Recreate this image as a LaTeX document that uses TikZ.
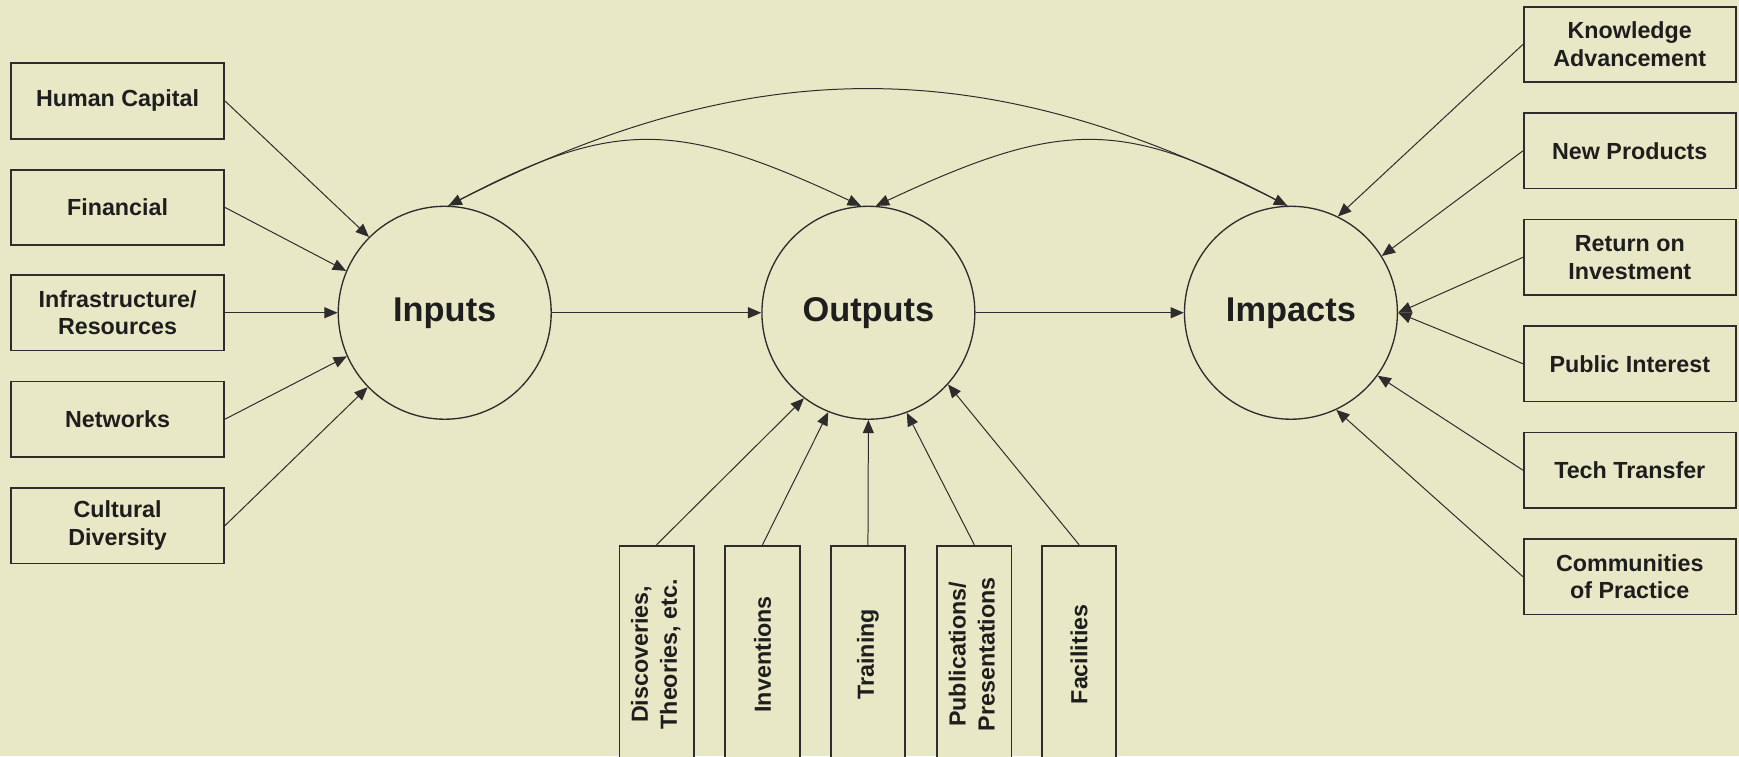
\documentclass[tikz,border=0pt]{standalone}
\usepackage{fontspec}
\setmainfont{Liberation Sans}
\usepackage{graphicx}
\usetikzlibrary{arrows.meta}
\definecolor{bgc}{RGB}{233,232,198}
\definecolor{ink}{RGB}{30,30,30}
\definecolor{edge}{RGB}{45,45,45}
\begin{document}
\begin{tikzpicture}[x=1pt,y=-1pt,
  >={Triangle[length=12pt,width=10pt]},
  box/.style={draw=edge, line width=1.6pt, fill=bgc, minimum width=192pt, minimum height=68pt,
    inner sep=2pt, align=center, text=ink, font=\fontsize{21}{25}\selectfont\bfseries},
  vbox/.style={draw=edge, line width=1.6pt, fill=bgc, minimum width=67pt, minimum height=196pt,
    inner sep=0pt, text=ink, font=\fontsize{21}{26}\selectfont\bfseries},
  hub/.style={circle, draw=edge, line width=1.2pt, minimum size=192pt, inner sep=0pt,
    text=ink, font=\fontsize{31}{36}\selectfont\bfseries},
  arr/.style={draw=edge, line width=0.9pt, ->},
  arrb/.style={draw=edge, line width=0.9pt, <->}
]
\fill[bgc] (0,0) rectangle (1568,682);
\useasboundingbox (0,0) rectangle (1568,682);

% left boxes
\node[box] (hc)    at (106,91)  {Human Capital};
\node[box] (fin)   at (106,187) {Financial};
\node[box] (infra) at (106,282) {Infrastructure/\\Resources};
\node[box] (net)   at (106,378) {Networks};
\node[box] (cult)  at (106,474) {Cultural\\Diversity};

% hubs
\node[hub] (in)  at (401,282)  {Inputs};
\node[hub] (out) at (783,282)  {Outputs};
\node[hub] (imp) at (1164,282) {Impacts};

% right boxes
\node[box, minimum width=191pt] (ka)   at (1469.5,40)  {Knowledge\\Advancement};
\node[box, minimum width=191pt] (np)   at (1469.5,136) {New Products};
\node[box, minimum width=191pt] (roi)  at (1469.5,232) {Return on\\Investment};
\node[box, minimum width=191pt] (pubi) at (1469.5,328) {Public Interest};
\node[box, minimum width=191pt] (tt)   at (1469.5,424) {Tech Transfer};
\node[box, minimum width=191pt] (cop)  at (1469.5,520) {Communities\\of Practice};

% bottom boxes
\node[vbox] (disc)  at (592,590)   {\rotatebox{90}{\begin{tabular}{@{}c@{}}Discoveries,\\Theories, etc.\end{tabular}}};
\node[vbox] (inv)   at (687.5,590) {\rotatebox{90}{Inventions}};
\node[vbox] (train) at (782.6,590) {\rotatebox{90}{Training}};
\node[vbox] (publ)  at (878.5,590) {\rotatebox{90}{\begin{tabular}{@{}c@{}}Publications/\\Presentations\end{tabular}}};
\node[vbox] (fac)   at (973,590)   {\rotatebox{90}{Facilities}};

% inputs
\draw[arr] (hc.east) -- (in.135);
\draw[arr] (fin.east) -- (in.157);
\draw[arr] (infra.east) -- (in.west);
\draw[arr] (net.east) -- (in.204);
\draw[arr] (cult.east) -- (in.224);

% main chain
\draw[arr] (in.east) -- (out.west);
\draw[arr] (out.east) -- (imp.west);

% impacts
\draw[arr] (ka.west) -- (imp.64);
\draw[arr] (np.west) -- (imp.32);
\draw[arr] (roi.west) -- (imp.east);
\draw[arr] (pubi.west) -- (imp.east);
\draw[arr] (tt.west) -- (imp.-36);
\draw[arr] (cop.west) -- (imp.-65);

% outputs
\draw[arr] (disc.north) -- (out.233);
\draw[arr] (inv.north) -- (out.248.5);
\draw[arr] (train.north) -- (out.south);
\draw[arr] (publ.north) -- (out.291.5);
\draw[arr] (fac.north) -- (out.318);

% feedback arcs
\draw[arrb] (in.88) .. controls +(273,-139) and +(-273,-139) .. (imp.92);
\draw[arr] (in.88) .. controls +(148,-79) and +(-169,-79) .. (out.94);
\draw[arr] (imp.92) .. controls +(-148,-79) and +(169,-79) .. (out.86);
\end{tikzpicture}
\end{document}
